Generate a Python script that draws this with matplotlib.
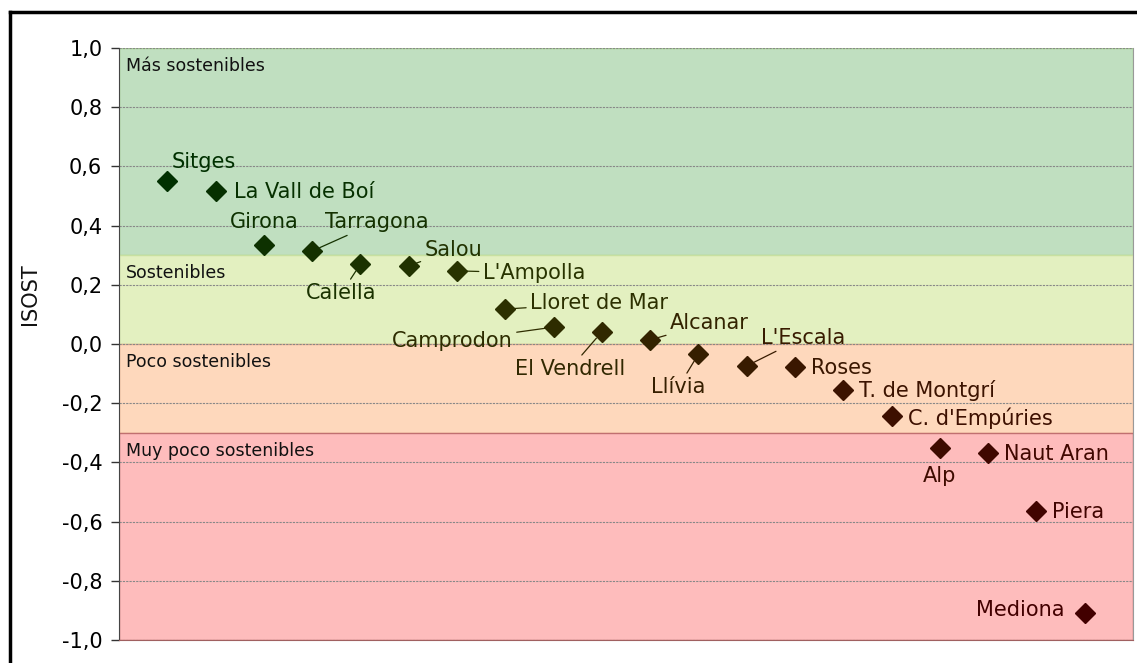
import matplotlib.pyplot as plt
from matplotlib.lines import Line2D
from matplotlib.colors import LinearSegmentedColormap
from matplotlib.ticker import FuncFormatter

plt.rcParams['font.family'] = ['DejaVu Sans']

towns = ["Sitges", "La Vall de Boí", "Girona", "Tarragona", "Calella", "Salou",
         "L'Ampolla", "Lloret de Mar", "Camprodon", "El Vendrell", "Alcanar",
         "Llívia", "L'Escala", "Roses", "T. de Montgrí", "C. d'Empúries",
         "Alp", "Naut Aran", "Piera", "Mediona"]
isost = [0.551, 0.517, 0.334, 0.314, 0.270, 0.264, 0.247, 0.118, 0.057, 0.041,
         0.014, -0.034, -0.074, -0.078, -0.155, -0.243, -0.351, -0.368, -0.564, -0.909]

zone_names = ["Más sostenibles", "Sostenibles", "Poco sostenibles", "Muy poco sostenibles"]
zone_top = [1.0, 0.3, 0.0, -0.3]
zone_bottom = [0.3, 0.0, -0.3, -1.0]
zone_fill = ["#c0dfc0", "#e3f0c0", "#fed8bc", "#febcbc"]
zone_edge = ["#a8d890", "#c8e0a0", "#f0b090", "#c07070"]

# label placement: (dx, dy) in pixels, horizontal alignment, leader line
label_pos = [(4, 19, 'left', False), (18, -1, 'left', False), (0, 23, 'center', False),
             (13, 29, 'left', True), (-19, -29, 'center', True), (16, 16, 'left', True),
             (26, -2, 'left', True), (25, 6, 'left', True), (-41, -14, 'right', True),
             (-32, -37, 'center', True), (20, 17, 'left', True), (-20, -33, 'center', True),
             (14, 28, 'left', True), (16, -1, 'left', False), (16, -1, 'left', False),
             (16, -2, 'left', False), (0, -28, 'center', False), (16, -1, 'left', False),
             (16, -1, 'left', False), (-20, 3, 'right', False)]

x = list(range(1, len(towns) + 1))
cmap = LinearSegmentedColormap.from_list("isost", ["#003000", "#2a3300", "#3a1800", "#420000"])
colors = [cmap(i / (len(towns) - 1)) for i in range(len(towns))]

fig = plt.figure(figsize=(11.37, 6.63), dpi=100)
ax = fig.add_axes([119 / 1137, 1 - 640 / 663, (1133 - 119) / 1137, (640 - 48) / 663])

for top, bot, fc, ec in zip(zone_top, zone_bottom, zone_fill, zone_edge):
    ax.axhspan(bot, top, facecolor=fc, edgecolor=ec, linewidth=1, zorder=0)

for name, top in zip(zone_names, zone_top):
    ax.annotate(name, xy=(0, top), xytext=(7, -18), textcoords='offset pixels',
                fontsize=12.5, color='#111111', va='center', ha='left')

ax.set_xlim(0, len(towns) + 1)
ax.set_ylim(-1.0, 1.0)
ax.set_yticks([-1.0, -0.8, -0.6, -0.4, -0.2, 0.0, 0.2, 0.4, 0.6, 0.8, 1.0])
ax.yaxis.set_major_formatter(FuncFormatter(lambda v, p: f"{v:.1f}".replace('.', ',').replace('-0,0', '0,0')))
ax.set_xticks([])
ax.tick_params(axis='y', labelsize=15, length=6, width=1, color='#333333', pad=6)
ax.grid(axis='y', linestyle=(0, (2, 1)), color='#888888', linewidth=0.8, zorder=1)

ax.spines['left'].set_color('#444444')
ax.spines['right'].set_color('#999999')
ax.spines['top'].set_visible(False)
ax.spines['bottom'].set_color('#a06060')

for xi, yi, name, c, (dx, dy, ha, lead) in zip(x, isost, towns, colors, label_pos):
    ax.plot(xi, yi, marker='D', markersize=10, color=c, linestyle='none', zorder=4)
    props = dict(arrowstyle='-', color=c, lw=0.9, shrinkA=1, shrinkB=6) if lead else None
    ax.annotate(name, xy=(xi, yi), xytext=(dx, dy), textcoords='offset pixels',
                fontsize=15, color=c, ha=ha, va='center', arrowprops=props, zorder=5)

fig.text(30 / 1137, 1 - 294 / 663, "ISOST", rotation=90, fontsize=15,
         ha='center', va='center', color='#111111')

# outer chart frame (top and left edges visible)
fig.add_artist(Line2D([10 / 1137, 10 / 1137], [0, 1 - 12 / 663], color='black', linewidth=2.5,
                      transform=fig.transFigure))
fig.add_artist(Line2D([10 / 1137, 1], [1 - 12 / 663, 1 - 12 / 663], color='black', linewidth=2.5,
                      transform=fig.transFigure))

plt.savefig("out.png", dpi=100)
